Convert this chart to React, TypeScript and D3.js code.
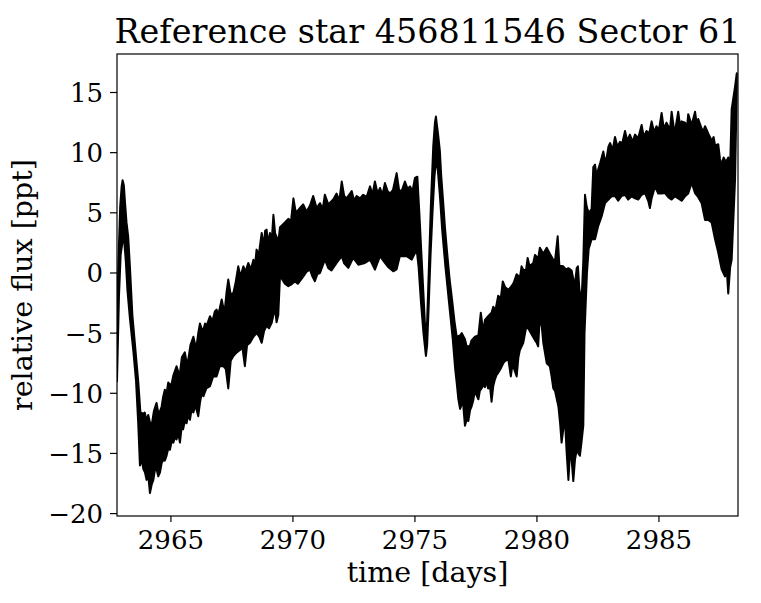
import React from "react";
import * as d3 from "d3";

// Light curve envelope: [time (days), relative flux (ppt)]
const upperEdge: [number, number][] = [
  [2962.79,-4.0],[2962.85,1.0],[2962.92,5.5],[2962.98,7.2],[2963.02,7.7],[2963.07,7.3],[2963.12,5.8],[2963.18,4.2],[2963.25,3.0],[2963.32,0.5],[2963.42,-3.5],[2963.55,-6.5],[2963.66,-9.0],[2963.75,-11.6],[2963.87,-11.7],[2963.93,-11.6],[2964.0,-12.3],[2964.07,-11.8],[2964.14,-12.4],[2964.21,-12.7],[2964.30,-11.5],[2964.41,-10.8],[2964.48,-11.6],[2964.55,-11.5],[2964.62,-11.1],[2964.68,-10.3],[2964.75,-9.7],[2964.82,-10.0],[2964.89,-9.1],[2964.96,-9.3],[2965.03,-9.2],[2965.10,-8.5],[2965.23,-7.75],[2965.30,-8.2],[2965.37,-8.3],[2965.45,-7.0],[2965.57,-6.6],[2965.64,-7.4],[2965.71,-7.2],[2965.80,-6.0],[2965.92,-5.3],[2966.0,-6.0],[2966.05,-6.1],[2966.12,-5.0],[2966.19,-4.2],[2966.30,-4.9],[2966.40,-4.2],[2966.46,-4.4],[2966.60,-3.6],[2966.70,-4.0],[2966.80,-3.2],[2966.87,-3.05],[2966.95,-3.4],[2967.08,-2.2],[2967.15,-2.9],[2967.21,-3.05],[2967.28,-1.6],[2967.35,-0.55],[2967.45,-1.8],[2967.56,-1.66],[2967.65,-0.8],[2967.76,0.55],[2967.85,-0.3],[2967.97,0.55],[2968.05,0.1],[2968.17,0.83],[2968.28,0.3],[2968.38,1.1],[2968.45,0.7],[2968.51,1.94],[2968.60,1.5],[2968.72,3.33],[2968.80,2.2],[2968.86,3.5],[2968.92,3.6],[2968.98,2.5],[2969.06,3.33],[2969.13,2.6],[2969.20,4.84],[2969.27,3.3],[2969.33,3.0],[2969.40,2.5],
  [2969.47,3.8],[2969.57,4.0],[2969.67,4.2],[2969.81,4.5],[2969.92,4.3],[2970.02,6.2],[2970.12,5.0],[2970.29,5.4],[2970.42,5.7],[2970.56,5.1],[2970.70,5.6],[2970.83,6.4],[2970.97,5.4],[2971.11,5.8],[2971.22,5.3],[2971.31,6.5],[2971.45,5.7],[2971.55,5.9],[2971.65,6.1],[2971.79,6.6],[2971.90,6.0],[2972.0,7.6],[2972.10,6.4],[2972.20,6.2],[2972.30,6.5],[2972.41,6.8],[2972.51,6.0],[2972.61,6.4],[2972.75,6.2],[2972.88,6.5],[2973.02,6.3],[2973.16,7.2],[2973.26,6.5],[2973.36,7.6],[2973.47,6.6],[2973.57,7.06],[2973.67,6.5],[2973.77,7.47],[2973.88,6.8],[2973.98,6.6],[2974.10,6.9],[2974.25,8.3],[2974.35,6.9],[2974.45,6.78],[2974.59,7.6],[2974.70,7.0],[2974.80,7.2],[2974.90,6.8],[2975.0,7.9],[2975.10,8.0],
  [2975.18,5.0],[2975.28,1.0],[2975.38,-3.0],[2975.44,-5.5],[2975.50,-4.0],[2975.58,1.0],[2975.66,6.0],[2975.75,10.5],[2975.82,12.5],[2975.86,13.0],[2975.90,12.3],[2975.95,11.5],[2976.02,10.2],[2976.08,8.0],[2976.15,6.1],[2976.23,3.8],[2976.31,1.9],[2976.42,-0.5],[2976.52,-2.2],[2976.62,-4.0],[2976.71,-5.3],
  [2976.85,-5.2],[2976.92,-5.0],[2977.05,-5.5],[2977.12,-6.1],[2977.25,-6.1],[2977.32,-5.6],[2977.46,-5.3],[2977.60,-5.2],[2977.70,-3.3],[2977.80,-4.9],[2977.87,-3.9],[2978.0,-3.6],[2978.14,-3.3],[2978.21,-2.8],[2978.30,-3.1],[2978.41,-1.9],[2978.52,-2.1],[2978.60,-0.7],[2978.70,-1.2],[2978.83,-1.4],[2978.96,-1.1],[2979.05,-0.8],[2979.17,-0.1],[2979.30,-0.4],[2979.37,0.55],[2979.44,0.28],[2979.55,0.2],[2979.62,1.25],[2979.70,0.55],[2979.85,0.83],[2979.92,1.5],[2980.05,1.2],[2980.12,2.1],[2980.26,1.6],[2980.40,2.1],[2980.53,1.6],[2980.67,1.1],[2980.74,1.0],[2980.85,3.05],[2980.92,0.6],[2981.08,0.55],[2981.18,0.3],[2981.29,0.4],[2981.42,0.2],[2981.55,-1.1],[2981.63,0.4],[2981.68,0.55],[2981.74,-1.4],[2981.83,-2.2],[2981.90,1.0],[2981.97,6.5],[2982.04,5.5],[2982.12,5.0],[2982.24,5.3],
  [2982.31,8.8],[2982.38,9.0],[2982.45,8.0],[2982.51,8.6],[2982.60,9.2],[2982.72,10.1],[2982.79,9.3],[2982.86,9.6],[2982.93,10.5],[2983.0,10.8],[2983.1,10.2],[2983.20,11.3],[2983.30,10.5],[2983.40,10.9],[2983.50,10.8],[2983.61,11.8],[2983.70,11.0],[2983.81,11.5],[2983.92,10.9],[2984.02,11.5],[2984.15,11.2],[2984.29,12.3],[2984.38,11.3],[2984.49,11.8],[2984.60,11.6],[2984.70,12.6],[2984.80,11.7],[2984.90,12.2],[2985.0,11.9],[2985.11,13.3],[2985.20,12.0],[2985.31,12.5],[2985.45,11.9],[2985.52,13.4],[2985.60,12.2],[2985.66,11.8],[2985.79,13.4],[2985.86,12.3],[2985.93,12.6],[2986.07,12.5],[2986.14,11.9],[2986.20,13.2],[2986.34,12.3],[2986.48,13.4],[2986.55,12.4],[2986.61,12.8],[2986.75,12.0],[2986.82,11.8],[2986.89,12.2],[2987.02,11.6],[2987.16,11.0],[2987.24,11.3],[2987.30,10.6],[2987.43,10.7],[2987.50,9.5],[2987.57,9.0],[2987.65,9.6],[2987.75,9.2],[2987.84,9.6],[2987.92,9.0],[2987.98,13.6],[2988.12,15.5],[2988.19,16.6],
];

const lowerEdge: [number, number][] = [
  [2962.79,-9.0],[2962.87,-2.0],[2962.94,1.5],[2963.01,2.5],[2963.08,2.8],[2963.15,1.0],[2963.22,-1.5],[2963.32,-3.8],[2963.46,-6.5],[2963.57,-9.0],[2963.66,-12.5],[2963.73,-16.0],[2963.80,-15.5],[2963.87,-16.3],[2963.94,-16.6],[2964.0,-17.2],[2964.07,-16.8],[2964.14,-18.3],[2964.21,-17.6],[2964.28,-17.2],[2964.35,-16.3],[2964.41,-16.3],[2964.48,-16.9],[2964.55,-16.6],[2964.62,-15.8],[2964.69,-15.5],[2964.75,-15.6],[2964.82,-15.2],[2964.89,-14.6],[2964.96,-14.7],[2965.03,-14.0],[2965.10,-14.1],[2965.17,-13.6],[2965.23,-13.85],[2965.30,-13.3],[2965.37,-14.1],[2965.44,-12.8],[2965.50,-13.0],[2965.57,-12.3],[2965.64,-12.5],[2965.71,-11.8],[2965.78,-12.2],[2965.85,-11.3],[2965.92,-11.6],[2966.0,-11.0],[2966.12,-11.9],[2966.19,-10.8],[2966.26,-10.0],[2966.33,-10.25],[2966.45,-9.6],[2966.60,-9.4],[2966.73,-8.6],[2966.87,-8.6],[2967.0,-7.75],[2967.15,-7.75],[2967.25,-8.0],[2967.35,-9.6],[2967.45,-7.3],[2967.56,-6.9],[2967.70,-6.6],[2967.83,-6.4],[2967.93,-6.2],[2968.03,-7.75],[2968.12,-6.0],[2968.24,-5.8],[2968.38,-5.3],[2968.51,-5.0],[2968.62,-5.3],[2968.72,-5.8],[2968.82,-4.8],[2968.92,-4.4],[2969.02,-4.6],[2969.13,-4.15],[2969.20,-3.5],[2969.27,-3.0],[2969.33,-4.1],[2969.40,-3.5],
  [2969.47,-0.3],[2969.55,-0.5],[2969.67,-0.9],[2969.81,-1.1],[2969.92,-0.97],[2970.08,-0.7],[2970.20,-0.9],[2970.42,-0.3],[2970.56,0.1],[2970.70,0.28],[2970.80,-0.3],[2970.90,-0.69],[2971.0,-0.1],[2971.11,0.0],[2971.31,1.1],[2971.45,0.4],[2971.58,0.2],[2971.79,0.83],[2972.0,1.39],[2972.10,0.8],[2972.27,0.42],[2972.47,1.25],[2972.68,0.69],[2972.95,0.83],[2973.16,1.11],[2973.36,0.28],[2973.57,1.39],[2973.77,0.83],[2973.90,0.5],[2974.11,0.14],[2974.25,0.3],[2974.38,1.39],[2974.66,1.39],[2974.87,1.11],[2975.07,1.94],
  [2975.15,0.5],[2975.25,-2.5],[2975.35,-5.0],[2975.45,-6.9],[2975.50,-6.0],[2975.56,-3.0],[2975.64,1.5],[2975.72,5.0],[2975.80,8.0],[2975.87,9.5],[2975.94,8.5],[2976.02,6.5],[2976.12,3.5],[2976.25,0.5],[2976.40,-2.5],[2976.55,-5.5],[2976.65,-8.0],[2976.71,-9.1],
  [2976.78,-10.5],[2976.85,-11.3],[2976.92,-10.9],[2976.98,-11.0],[2977.05,-12.7],[2977.12,-12.2],[2977.19,-12.3],[2977.26,-11.4],[2977.32,-11.1],[2977.39,-10.6],[2977.46,-9.7],[2977.53,-10.2],[2977.60,-10.5],[2977.66,-9.8],[2977.73,-9.6],[2977.80,-9.3],[2977.87,-9.5],[2977.94,-9.0],[2978.0,-9.6],[2978.07,-9.3],[2978.14,-10.7],[2978.21,-9.4],[2978.27,-8.9],[2978.34,-8.5],[2978.41,-8.3],[2978.50,-8.0],[2978.62,-7.5],[2978.70,-7.3],[2978.83,-7.2],[2978.93,-8.6],[2979.0,-7.6],[2979.17,-8.6],[2979.24,-7.0],[2979.30,-6.4],[2979.44,-5.8],[2979.57,-4.4],[2979.70,-4.8],[2979.78,-5.1],[2979.92,-5.6],[2979.99,-5.8],[2980.05,-6.1],[2980.12,-3.6],[2980.20,-4.5],[2980.26,-5.8],[2980.40,-7.5],[2980.53,-7.75],[2980.60,-8.6],[2980.67,-9.6],[2980.74,-9.8],[2980.88,-11.1],[2980.95,-12.5],[2981.01,-14.1],[2981.08,-13.0],[2981.15,-12.3],[2981.22,-15.0],[2981.29,-17.2],[2981.36,-14.7],[2981.42,-15.5],[2981.49,-17.3],[2981.56,-15.5],[2981.63,-14.7],[2981.70,-15.0],[2981.76,-15.2],[2981.83,-14.0],[2981.90,-12.7],[2981.95,-5.0],[2982.0,-2.5],[2982.05,0.0],[2982.12,2.0],[2982.24,2.8],
  [2982.38,2.8],[2982.51,3.9],[2982.65,4.7],[2982.79,5.8],[2982.93,6.1],[2983.06,6.37],[2983.20,6.4],[2983.33,6.0],[2983.47,6.4],[2983.61,6.5],[2983.74,6.1],[2983.88,6.37],[2984.02,6.2],[2984.15,6.1],[2984.29,6.5],[2984.43,6.64],[2984.56,6.0],[2984.63,5.4],[2984.70,6.2],[2984.84,7.2],[2984.97,6.6],[2985.11,6.6],[2985.25,6.64],[2985.38,6.3],[2985.52,6.1],[2985.66,6.37],[2985.79,6.2],[2985.93,6.0],[2986.07,6.37],[2986.20,6.6],[2986.34,7.5],[2986.48,6.64],[2986.61,6.3],[2986.75,5.8],[2986.89,4.4],[2987.02,4.4],[2987.16,4.2],[2987.30,2.8],[2987.43,1.7],[2987.57,0.3],[2987.71,-0.3],[2987.78,0.3],[2987.84,-1.7],[2987.92,0.5],[2987.98,1.1],[2988.12,7.8],[2988.19,15.5],
];

const xTicks = [2965, 2970, 2975, 2980, 2985];
const yTicks = [-20, -15, -10, -5, 0, 5, 10, 15];
const xDomain: [number, number] = [2962.79, 2988.24];
const yDomain: [number, number] = [-20.2, 18.2];

const W = 761, H = 603;
const L = 117, R = 738, T = 54, B = 516;
const FONT = "'DejaVu Serif', serif";

export default function App() {
  const x = d3.scaleLinear().domain(xDomain).range([L, R]);
  const y = d3.scaleLinear().domain(yDomain).range([B, T]);
  const line = d3.line<[number, number]>().x(d => x(d[0])).y(d => y(d[1]));
  const poly = upperEdge.concat(lowerEdge.slice().reverse());
  const path = (line(poly) || "") + "Z";
  const fmt = (v: number) => (v < 0 ? "\u2212" + Math.abs(v) : String(v));

  return (
    <svg width={W} height={H} style={{ position: "absolute", left: 0, top: 0, background: "#fff" }}>
      <defs>
        <clipPath id="plotclip">
          <rect x={L} y={T} width={R - L} height={B - T} />
        </clipPath>
      </defs>
      <rect x={0} y={0} width={W} height={H} fill="#fff" />
      <g clipPath="url(#plotclip)">
        <path d={path} fill="#000" stroke="#000" strokeWidth={2} strokeLinejoin="round" />
      </g>
      <rect x={L} y={T} width={R - L} height={B - T} fill="none" stroke="#000" strokeWidth={1.2} />
      {xTicks.map(t => (
        <g key={"x" + t}>
          <line x1={x(t)} x2={x(t)} y1={B} y2={B + 6} stroke="#000" strokeWidth={1.2} />
          <text x={x(t)} y={549} textAnchor="middle" fontFamily={FONT} fontSize={26} fill="#000">{t}</text>
        </g>
      ))}
      {yTicks.map(t => (
        <g key={"y" + t}>
          <line x1={L - 7} x2={L} y1={y(t)} y2={y(t)} stroke="#000" strokeWidth={1.2} />
          <text x={103} y={y(t) + 9.5} textAnchor="end" fontFamily={FONT} fontSize={26} fill="#000">{fmt(t)}</text>
        </g>
      ))}
      <text x={(L + R) / 2} y={582} textAnchor="middle" fontFamily={FONT} fontSize={28.5} fill="#000">time [days]</text>
      <text transform={`translate(32,${(T + B) / 2}) rotate(-90)`} textAnchor="middle" fontFamily={FONT} fontSize={28.5} fill="#000">relative flux [ppt]</text>
      <text x={(L + R) / 2} y={43} textAnchor="middle" fontFamily={FONT} fontSize={33.4} fill="#000">Reference star 456811546 Sector 61</text>
    </svg>
  );
}
